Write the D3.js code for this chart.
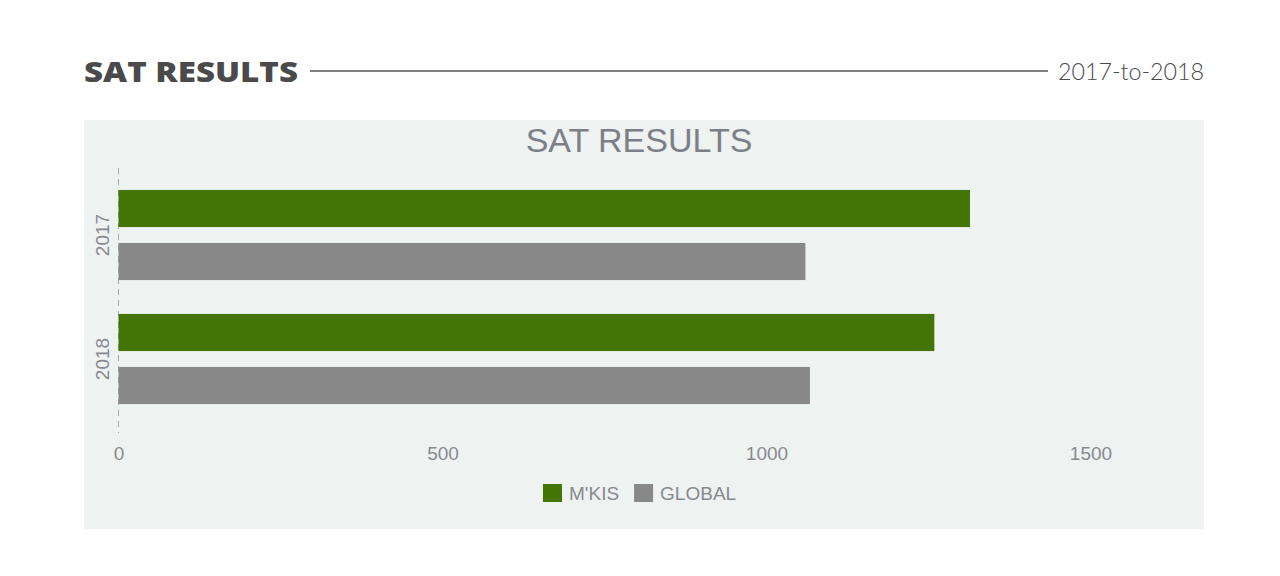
<!DOCTYPE html>
<html>
<head>
<meta charset="utf-8">
<script src="https://cdn.jsdelivr.net/npm/d3@7"></script>
<style>
  body { margin: 0; background: #fff; }
  svg { display: block; }
</style>
</head>
<body>
<div id="chart"></div>
<script>
// data
const years = ["2017", "2018"];
const seriesNames = ["M'KIS", "GLOBAL"];
const mkisValues = [1314, 1259];
const globalValues = [1060, 1067];
const xTicks = [0, 500, 1000, 1500];

const colors = { "M'KIS": "#437506", "GLOBAL": "#888888" };

const W = 1280, H = 576;
const svg = d3.select("#chart").append("svg")
    .attr("width", W)
    .attr("height", H);

// header: bold title, rule, period
const header = svg.append("g");
header.append("text")
    .attr("x", 84).attr("y", 82)
    .attr("textLength", 214)
    .attr("lengthAdjust", "spacingAndGlyphs")
    .style("font-family", "'Open Sans', sans-serif")
    .style("font-weight", 800)
    .style("font-size", "28px")
    .style("fill", "#4a4a4a")
    .text("SAT RESULTS");
header.append("line")
    .attr("x1", 310).attr("x2", 1048)
    .attr("y1", 71).attr("y2", 71)
    .attr("stroke", "#555")
    .attr("stroke-width", 1.5);
header.append("text")
    .attr("x", 1058).attr("y", 80)
    .attr("textLength", 146)
    .attr("lengthAdjust", "spacingAndGlyphs")
    .style("font-family", "Lato, 'Open Sans', sans-serif")
    .style("font-weight", 300)
    .style("font-size", "24px")
    .style("fill", "#4a4a4a")
    .text("2017-to-2018");

// panel
svg.append("rect")
    .attr("x", 84).attr("y", 120)
    .attr("width", 1120).attr("height", 409)
    .attr("fill", "#eef2f1");

svg.append("text")
    .attr("x", 639).attr("y", 152)
    .attr("text-anchor", "middle")
    .style("font-family", "'Liberation Sans', Arial, sans-serif")
    .style("font-size", "34px")
    .style("fill", "#7b8088")
    .text("SAT RESULTS");

// scales
const x = d3.scaleLinear()
    .domain([0, 1500])
    .range([118.5, 1090.5]);

const y0 = d3.scaleBand()
    .domain(years)
    .range([173, 421])
    .padding(0);

const y1 = d3.scaleBand()
    .domain(seriesNames)
    .range([0, y0.bandwidth()])
    .paddingInner(0.3)
    .paddingOuter(0.32);

const rows = years.map((yr, i) => ({
  year: yr,
  values: [
    { key: "M'KIS", value: mkisValues[i] },
    { key: "GLOBAL", value: globalValues[i] }
  ]
}));

const plot = svg.append("g");

// dashed category axis line
plot.append("line")
    .attr("x1", x(0)).attr("x2", x(0))
    .attr("y1", 168).attr("y2", 433)
    .attr("stroke", "#a8abab")
    .attr("stroke-dasharray", "6,5");

// bars
const groups = plot.selectAll("g.year")
    .data(rows)
    .enter().append("g")
      .attr("class", "year")
      .attr("transform", d => `translate(0,${y0(d.year)})`);

groups.selectAll("rect")
    .data(d => d.values)
    .enter().append("rect")
      .attr("x", x(0))
      .attr("y", d => y1(d.key))
      .attr("width", d => x(d.value) - x(0))
      .attr("height", y1.bandwidth())
      .attr("fill", d => colors[d.key]);

// year labels, rotated
const yAxis = plot.append("g")
    .attr("transform", `translate(${x(0)},0)`)
    .call(d3.axisLeft(y0).tickSize(0).tickPadding(0));
yAxis.select(".domain").remove();
yAxis.selectAll("text")
    .attr("x", 0)
    .attr("y", 0)
    .attr("dy", 0)
    .attr("transform", "translate(-15,0) rotate(-90)")
    .style("text-anchor", "middle")
    .style("dominant-baseline", "middle")
    .style("font-family", "'Liberation Sans', Arial, sans-serif")
    .style("font-size", "19px")
    .style("fill", "#878a8e");

// value axis labels only
const xAxis = plot.append("g")
    .attr("transform", "translate(0,446)")
    .call(d3.axisBottom(x).tickValues(xTicks).tickFormat(d3.format("d")).tickSize(0).tickPadding(0));
xAxis.select(".domain").remove();
xAxis.selectAll("text")
    .attr("dy", "0.71em")
    .style("font-family", "'Liberation Sans', Arial, sans-serif")
    .style("font-size", "19px")
    .style("fill", "#878a8e");

// legend
const legend = svg.append("g").attr("transform", "translate(543,484)");
let lx = 0;
seriesNames.forEach(name => {
  const g = legend.append("g").attr("transform", `translate(${lx},0)`);
  g.append("rect")
      .attr("width", 19).attr("height", 18)
      .attr("fill", colors[name]);
  const t = g.append("text")
      .attr("x", 26).attr("y", 9)
      .attr("dy", "0.35em")
      .style("font-family", "'Liberation Sans', Arial, sans-serif")
      .style("font-size", "19px")
      .style("fill", "#878a8e")
      .text(name);
  lx += 26 + t.node().getComputedTextLength() + 15;
});
</script>
</body>
</html>
